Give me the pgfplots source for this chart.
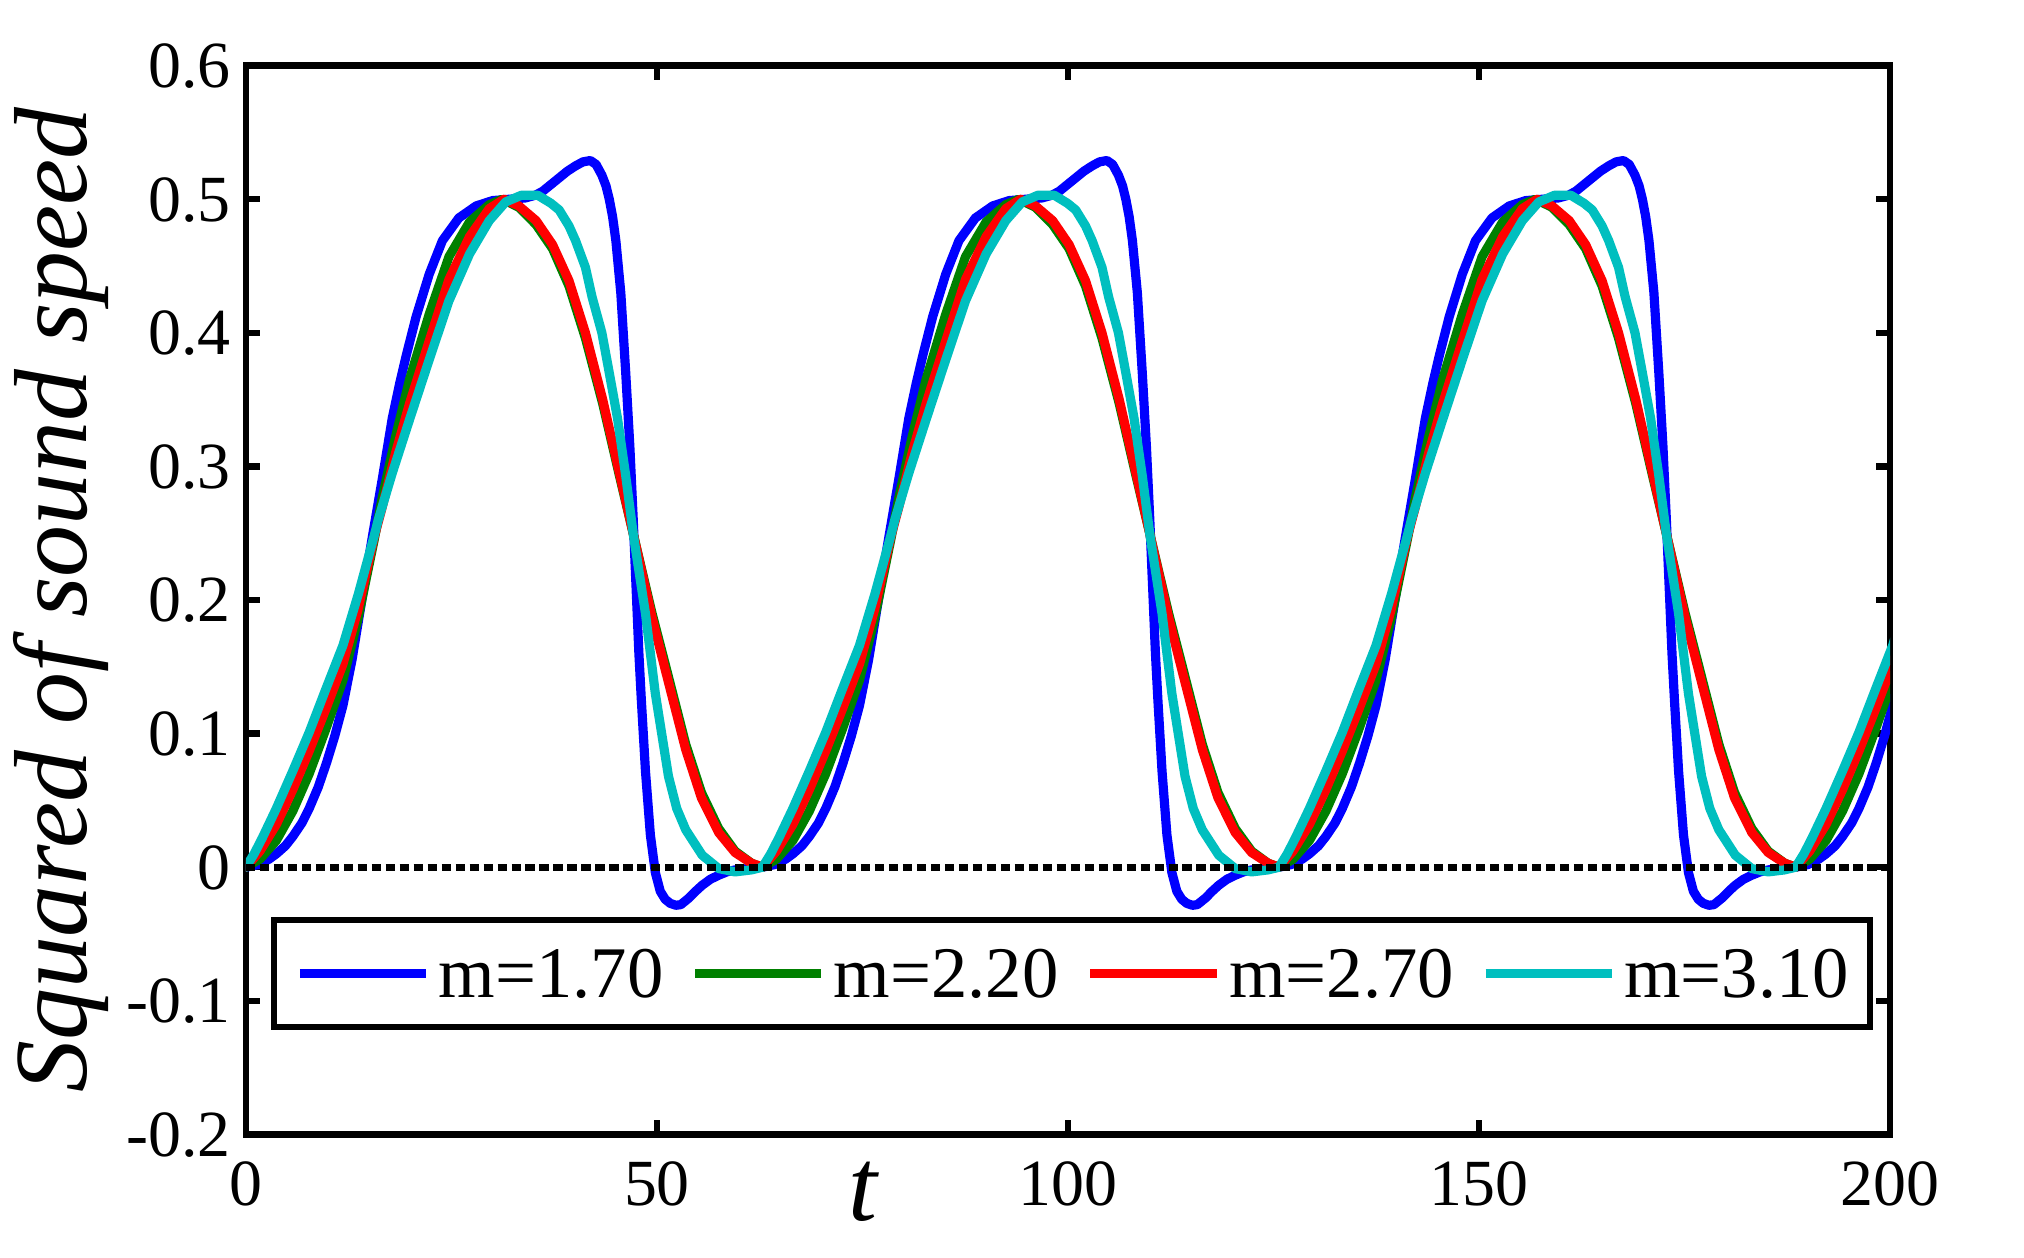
\documentclass[border=0pt]{standalone}
\usepackage{fontspec}
\setmainfont{Liberation Serif}
\usepackage{pgfplots}
\usepackage{pgfplotstable}
\pgfplotsset{compat=1.18}
\definecolor{mblue}{rgb}{0,0,1}
\definecolor{mgreen}{rgb}{0,0.5,0}
\definecolor{mred}{rgb}{1,0,0}
\definecolor{mcyan}{rgb}{0,0.75,0.75}

\pgfplotstableread{
t v
0 0
1.5 0.002
2.8 0.006
3.7 0.010
4.8 0.016
5.7 0.023
6.8 0.033
7.7 0.044
8.8 0.060
9.8 0.078
10.8 0.098
11.8 0.121
12.9 0.155
14.1 0.200
15.4 0.248
16.6 0.291
17.8 0.336
18.7 0.362
19.5 0.383
20.7 0.412
22.3 0.444
23.9 0.469
25.9 0.486
28.0 0.495
30.0 0.499
32.0 0.500
34.0 0.501
35.2 0.503
36.1 0.506
37.1 0.511
38.1 0.516
39.1 0.521
40.1 0.525
41.0 0.528
41.9 0.529
42.6 0.526
43.3 0.518
43.8 0.510
44.2 0.500
44.6 0.487
45.0 0.469
45.6 0.430
46.2 0.370
46.7 0.315
47.1 0.262
47.4 0.218
47.8 0.160
48.1 0.125
48.6 0.072
49.2 0.024
49.8 -0.004
50.4 -0.018
51.0 -0.024
51.6 -0.027
52.3 -0.0285
52.9 -0.028
53.9 -0.023
54.7 -0.018
55.5 -0.0135
56.5 -0.009
57.5 -0.006
58.5 -0.0035
59.5 -0.002
61.0 -0.001
62.83 0
}\tblue

\pgfplotstableread{
t v
0 0
1.7 0.006
3.7 0.020
5.7 0.042
7.7 0.070
9.7 0.103
11.8 0.140
13.6 0.185
15.6 0.245
16.6 0.277
18.2 0.322
19.9 0.365
22.3 0.414
24.7 0.457
27.2 0.483
29.6 0.496
31.2 0.500
33.2 0.494
35.3 0.481
37.3 0.463
39.3 0.435
41.3 0.396
43.4 0.347
45.4 0.294
47.1 0.250
49.4 0.190
51.0 0.152
53.5 0.092
55.4 0.056
57.5 0.029
59.5 0.012
61.5 0.003
62.83 0
}\tgreen

\pgfplotstableread{
t v
0 0
1.7 0.012
3.7 0.032
5.7 0.058
7.7 0.087
9.7 0.118
11.8 0.152
13.6 0.192
15.6 0.247
16.6 0.270
18.2 0.310
19.9 0.347
22.3 0.394
24.7 0.440
27.2 0.472
29.6 0.493
31.4 0.500
33.2 0.495
35.3 0.484
37.3 0.466
39.3 0.439
41.3 0.400
43.4 0.350
45.4 0.296
47.1 0.250
49.4 0.187
51.0 0.148
53.5 0.088
55.4 0.052
57.5 0.026
59.5 0.011
61.5 0.003
62.83 0
}\tred

\pgfplotstableread{
t v
0 0
1.0 0.010
2.0 0.022
3.7 0.044
5.7 0.072
7.7 0.101
9.7 0.133
11.8 0.166
13.7 0.205
15.6 0.248
16.1 0.260
17.8 0.295
19.9 0.335
22.3 0.380
24.7 0.424
27.2 0.459
29.6 0.484
31.6 0.498
33.5 0.503
35.5 0.503
37.1 0.497
38.1 0.492
39.3 0.480
40.1 0.469
41.3 0.449
42.1 0.427
43.3 0.400
44.2 0.370
45.2 0.336
46.2 0.293
47.1 0.250
48.6 0.190
49.8 0.130
51.4 0.068
52.4 0.044
53.5 0.028
55.5 0.009
57.5 -0.001
59.5 -0.0035
61.5 -0.002
62.83 0
}\tcyan

\begin{document}
\begin{tikzpicture}
\begin{axis}[
  name=ax,
  scale only axis,
  width=411.7pt, height=267.6pt,
  xmin=0, xmax=200, ymin=-0.2, ymax=0.6,
  xtick={0,50,100,150,200},
  xticklabels={0,50,100,150,200},
  ytick={-0.2,-0.1,0,0.1,0.2,0.3,0.4,0.5,0.6},
  yticklabels={-0.2,-0.1,0,0.1,0.2,0.3,0.4,0.5,0.6},
  tick align=inside,
  major tick length=3.5pt,
  tick style={line width=1.6pt, black},
  axis line style={line width=1.6pt},
  xticklabel style={font=\fontsize{16.5}{18}\selectfont, anchor=center, inner sep=0pt, text depth=0pt, yshift=-12.3pt},
  yticklabel style={font=\fontsize{16.5}{18}\selectfont, anchor=east, inner sep=0pt, text depth=0pt, xshift=-3.6pt},
  xlabel={\itshape t},
  xlabel style={font=\fontsize{26}{30}\selectfont, at={(axis description cs:0.375,0)}, anchor=center, yshift=-14.3pt},
  ylabel={\itshape Squared of sound speed},
  ylabel style={font=\fontsize{26}{30}\selectfont, at={(axis description cs:-0.1125,0.5)}, anchor=center},
  legend columns=4,
  legend image code/.code={\draw[#1, line cap=butt] (0pt,0pt) -- (31.6pt,0pt);},
  legend style={at={(rel axis cs:0.0153,0.2035)}, anchor=north west,
    draw=black, line width=1.5pt, fill=white,
    inner xsep=5.3pt, inner ysep=7.4pt,
    font=\fontsize{18.2}{20}\selectfont,
    nodes={inner sep=0pt, text depth=0pt},
    column sep=2pt,
    /tikz/every even column/.append style={column sep=6.8pt}},
  every axis plot/.append style={line width=2.3pt, line cap=round, line join=round},
]
\addplot[mblue] table[x=t,y=v]{\tblue};
\addplot[mblue, forget plot] table[x expr=\thisrow{t}+62.83,y=v]{\tblue};
\addplot[mblue, forget plot] table[x expr=\thisrow{t}+125.66,y=v]{\tblue};
\addplot[mblue, forget plot] table[x expr=\thisrow{t}+188.5,y=v]{\tblue};
\addplot[mgreen] table[x=t,y=v]{\tgreen};
\addplot[mgreen, forget plot] table[x expr=\thisrow{t}+62.83,y=v]{\tgreen};
\addplot[mgreen, forget plot] table[x expr=\thisrow{t}+125.66,y=v]{\tgreen};
\addplot[mgreen, forget plot] table[x expr=\thisrow{t}+188.5,y=v]{\tgreen};
\addplot[mred] table[x=t,y=v]{\tred};
\addplot[mred, forget plot] table[x expr=\thisrow{t}+62.83,y=v]{\tred};
\addplot[mred, forget plot] table[x expr=\thisrow{t}+125.66,y=v]{\tred};
\addplot[mred, forget plot] table[x expr=\thisrow{t}+188.5,y=v]{\tred};
\addplot[mcyan] table[x=t,y=v]{\tcyan};
\addplot[mcyan, forget plot] table[x expr=\thisrow{t}+62.83,y=v]{\tcyan};
\addplot[mcyan, forget plot] table[x expr=\thisrow{t}+125.66,y=v]{\tcyan};
\addplot[mcyan, forget plot] table[x expr=\thisrow{t}+188.5,y=v]{\tcyan};
\addplot[black, line width=1.75pt, line cap=butt, dash pattern=on 2.3pt off 1.2pt, forget plot] coordinates {(0,0) (200,0)};
\legend{m=1.70, m=2.20, m=2.70, m=3.10}
\end{axis}
\path ([shift={(-60.8pt,-30.9pt)}]ax.south west) rectangle ([shift={(33.5pt,16.45pt)}]ax.north east);
\end{tikzpicture}
\end{document}
